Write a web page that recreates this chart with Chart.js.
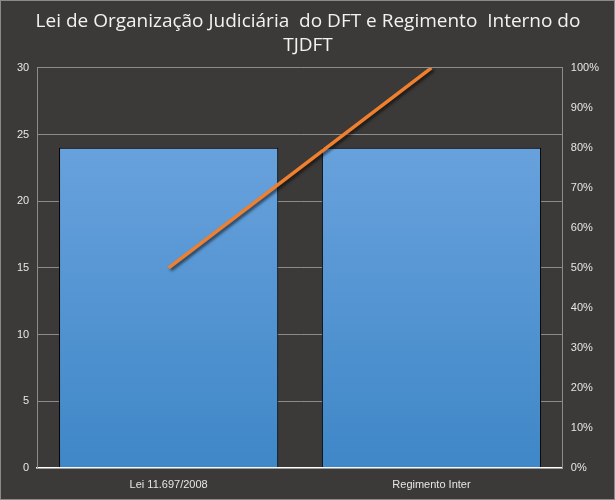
<!DOCTYPE html>
<html>
<head>
<meta charset="utf-8">
<script src="https://cdn.jsdelivr.net/npm/chart.js@4"></script>
<style>
  html, body { margin: 0; padding: 0; background: #3b3a38; }
  #wrap { width: 615px; height: 500px; }
</style>
</head>
<body>
<div id="wrap"><canvas id="grafico" width="615" height="500"></canvas></div>
<script>
const categorias = ['Lei 11.697/2008', 'Regimento Inter'];
const quantidades = [24, 24];
const acumulado = [50, 100];
const titulo = ['Lei de Organização Judiciária  do DFT e Regimento  Interno do', 'TJDFT'];

// fundo e borda externa
const fundo = {
  id: 'fundo',
  beforeDraw(chart) {
    const ctx = chart.ctx;
    ctx.save();
    ctx.fillStyle = '#3b3a38';
    ctx.fillRect(0, 0, chart.width, chart.height);
    ctx.strokeStyle = '#8a8a8a';
    ctx.lineWidth = 1;
    ctx.strokeRect(0.5, 0.5, chart.width - 1, chart.height - 1);
    ctx.restore();
  }
};

// sombra da linha
const sombra = {
  id: 'sombra',
  beforeDatasetDraw(chart, args) {
    if (args.meta.type !== 'line') return;
    const ctx = chart.ctx;
    ctx.save();
    ctx.shadowColor = 'rgba(0,0,0,0.6)';
    ctx.shadowBlur = 3;
    ctx.shadowOffsetX = 2;
    ctx.shadowOffsetY = 2;
  },
  afterDatasetDraw(chart, args) {
    if (args.meta.type !== 'line') return;
    chart.ctx.restore();
  }
};

const gradiente = (context) => {
  const { ctx, chartArea } = context.chart;
  if (!chartArea) return '#5b9bd5';
  const g = ctx.createLinearGradient(0, chartArea.top, 0, chartArea.bottom);
  g.addColorStop(0, '#72a8e2');
  g.addColorStop(1, '#3f87c7');
  return g;
};

new Chart(document.getElementById('grafico'), {
  type: 'bar',
  data: {
    labels: categorias,
    datasets: [
      {
        type: 'line',
        data: acumulado,
        yAxisID: 'y1',
        borderColor: '#f07f2e',
        borderWidth: 3.5,
        pointRadius: 0,
        tension: 0,
        order: 0
      },
      {
        type: 'bar',
        data: quantidades,
        yAxisID: 'y',
        backgroundColor: gradiente,
        borderColor: '#000000',
        borderWidth: 1,
        categoryPercentage: 0.834,
        barPercentage: 1,
        order: 1
      }
    ]
  },
  options: {
    responsive: false,
    animation: false,
    layout: { padding: { left: 9, right: 8, top: 0, bottom: 5 } },
    plugins: {
      legend: { display: false },
      tooltip: { enabled: false },
      title: {
        display: true,
        text: titulo,
        color: '#f2f2f2',
        font: { family: '"Open Sans", sans-serif', size: 19, weight: 'normal', lineHeight: 1.26 },
        padding: { top: 10, bottom: 10 }
      }
    },
    scales: {
      x: {
        grid: { display: false },
        border: { color: '#ffffff', width: 1.5 },
        ticks: { color: '#e6e6e6', font: { family: '"Liberation Sans Narrow", "Liberation Sans", sans-serif', size: 11 }, padding: 3 }
      },
      y: {
        position: 'left',
        min: 0,
        max: 30,
        ticks: { stepSize: 5, color: '#e6e6e6', font: { family: '"Liberation Sans", sans-serif', size: 11 }, padding: 8 },
        grid: { color: '#8c8c8c', drawTicks: false },
        border: { color: '#8c8c8c' }
      },
      y1: {
        position: 'right',
        min: 0,
        max: 100,
        ticks: {
          stepSize: 10,
          color: '#e6e6e6',
          font: { family: '"Liberation Sans", sans-serif', size: 11 },
          padding: 8,
          callback: (v) => v + '%'
        },
        grid: { display: false, drawTicks: false },
        border: { color: '#8c8c8c' }
      }
    }
  },
  plugins: [fundo, sombra]
});
</script>
</body>
</html>
